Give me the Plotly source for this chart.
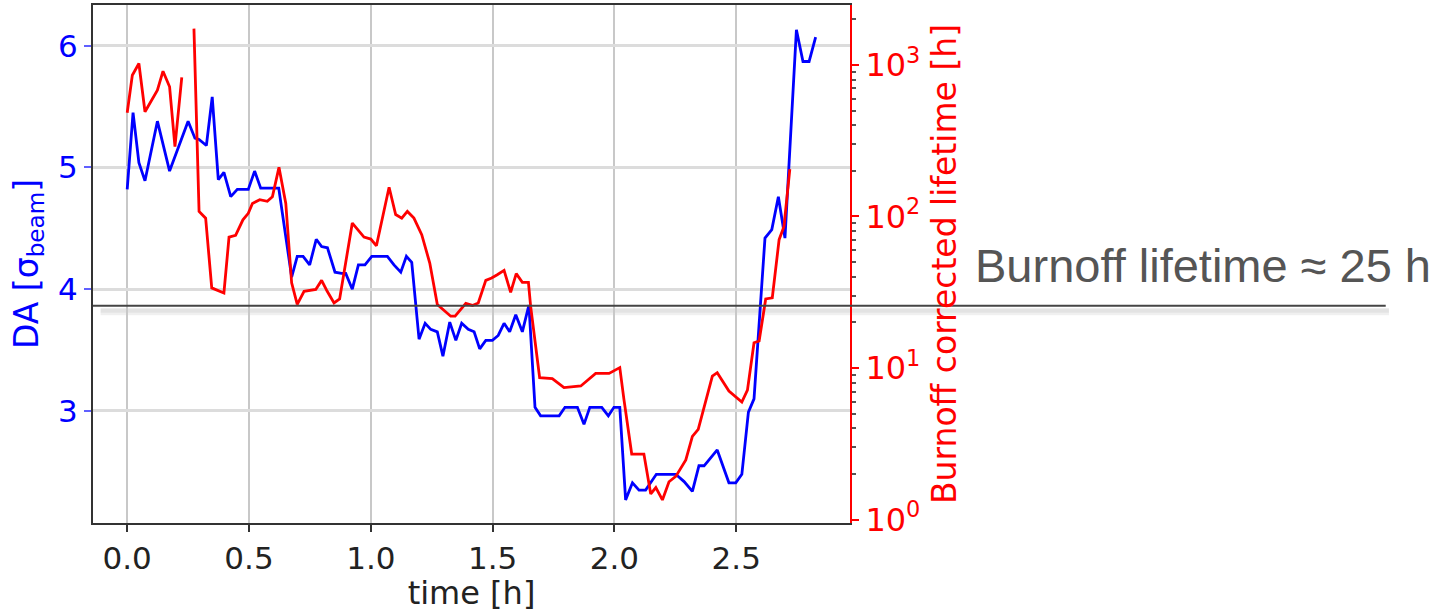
import plotly.graph_objects as go

# ---------------- data ----------------
time_da = [0.000, 0.024, 0.048, 0.073, 0.124, 0.174, 0.250, 0.278, 0.295, 0.325,
           0.349, 0.374, 0.397, 0.425, 0.452, 0.497, 0.523, 0.548, 0.593, 0.622,
           0.675, 0.698, 0.722, 0.749, 0.776, 0.798, 0.822, 0.853, 0.880, 0.897,
           0.924, 0.949, 0.976, 1.004, 1.068, 1.095, 1.123, 1.146, 1.168, 1.198,
           1.223, 1.246, 1.273, 1.296, 1.324, 1.349, 1.373, 1.400, 1.424, 1.447,
           1.472, 1.499, 1.523, 1.547, 1.570, 1.595, 1.622, 1.649, 1.674, 1.697,
           1.773, 1.797, 1.848, 1.875, 1.899, 1.948, 1.975, 1.998, 2.022, 2.046,
           2.074, 2.101, 2.128, 2.172, 2.252, 2.286, 2.320, 2.347, 2.368, 2.422,
           2.470, 2.498, 2.523, 2.550, 2.573, 2.618, 2.646, 2.673, 2.700, 2.747,
           2.774, 2.799, 2.826]
da_sigma = [4.82, 5.45, 5.04, 4.89, 5.38, 4.97, 5.38, 5.24, 5.23, 5.18,
            5.58, 4.90, 4.96, 4.76, 4.82, 4.82, 4.97, 4.83, 4.83, 4.83,
            4.10, 4.27, 4.27, 4.20, 4.41, 4.35, 4.34, 4.14, 4.13, 4.13,
            4.00, 4.20, 4.20, 4.27, 4.27, 4.20, 4.14, 4.27, 4.22, 3.59,
            3.72, 3.67, 3.65, 3.45, 3.73, 3.58, 3.72, 3.67, 3.65, 3.51,
            3.58, 3.58, 3.62, 3.72, 3.65, 3.79, 3.65, 3.87, 3.03, 2.96,
            2.96, 3.03, 3.03, 2.89, 3.03, 3.03, 2.96, 3.03, 3.03, 2.27,
            2.41, 2.35, 2.35, 2.48, 2.48, 2.42, 2.34, 2.55, 2.55, 2.68,
            2.41, 2.41, 2.48, 2.99, 3.10, 4.42, 4.49, 4.76, 4.42, 6.13,
            5.87, 5.87, 6.07]

time_lt = [0.000, 0.021, 0.048, 0.073, 0.124, 0.147, 0.174, 0.196, 0.224, 0.250,
           0.274, 0.295, 0.322, 0.347, 0.397, 0.418, 0.445, 0.475, 0.497, 0.514,
           0.544, 0.575, 0.596, 0.623, 0.651, 0.675, 0.698, 0.726, 0.774, 0.798,
           0.821, 0.849, 0.872, 0.924, 0.972, 1.000, 1.023, 1.075, 1.102, 1.127,
           1.150, 1.177, 1.209, 1.242, 1.273, 1.328, 1.346, 1.390, 1.417, 1.441,
           1.472, 1.496, 1.519, 1.547, 1.574, 1.597, 1.622, 1.647, 1.656, 1.693,
           1.745, 1.793, 1.862, 1.923, 1.978, 2.022, 2.039, 2.071, 2.121, 2.149,
           2.170, 2.197, 2.224, 2.252, 2.293, 2.320, 2.344, 2.402, 2.422, 2.470,
           2.523, 2.546, 2.573, 2.594, 2.621, 2.648, 2.676, 2.696, 2.720]
lifetime_h = [483, 855, 1021, 491, 682, 909, 717, 289, 826, None,
              1735, 108, 97.5, 33.8, 31.3, 73, 75, 95, 105, 122,
              129, 126, 135, 211, 122, 36.5, 26.3, 32.1, 33, 37.9,
              32.1, 26.9, 28.6, 90.5, 73.1, 71, 64.1, 156, 103, 97.6,
              108, 97.6, 75.8, 49.3, 26.3, 22, 22, 26.7, 25.9, 26.9,
              37.9, 39.3, 41.3, 44.1, 31.6, 42, 36.8, 36.8, 25.6, 8.65,
              8.52, 7.43, 7.62, 9.23, 9.23, 10.07, 6.22, 2.71, 2.71, 1.48,
              1.63, 1.35, 1.78, 1.93, 2.48, 3.54, 3.95, 8.86, 9.33, 7.06,
              5.97, 7.16, 14.7, 15.1, 28.6, 29.1, 70.3, 86, 205]

x_ticks = [0.0, 0.5, 1.0, 1.5, 2.0, 2.5]
x_tick_labels = ["0.0", "0.5", "1.0", "1.5", "2.0", "2.5"]
da_ticks = [3, 4, 5, 6]
lt_ticks = [1, 10, 100, 1000]
lt_tick_labels = ["10<sup>0</sup>", "10<sup>1</sup>", "10<sup>2</sup>", "10<sup>3</sup>"]
lt_minor = [m * 10 ** k for k in range(0, 4) for m in range(2, 10)]

burnoff_line_h = 25.8
burnoff_text = "Burnoff lifetime \u2248 25 h"

# ---------------- figure ----------------
FONT = "DejaVu Sans"
BLUE = "#0000ff"
RED = "#ff0000"

fig = go.Figure()
fig.add_trace(go.Scatter(x=time_da, y=da_sigma, mode="lines",
                         line=dict(color=BLUE, width=2.8), yaxis="y",
                         showlegend=False))
fig.add_trace(go.Scatter(x=time_lt, y=lifetime_h, mode="lines",
                         line=dict(color=RED, width=2.8), yaxis="y2",
                         connectgaps=False, showlegend=False))

fig.update_layout(
    width=1445, height=612,
    margin=dict(l=93, r=595, t=5, b=89, autoexpand=False),
    paper_bgcolor="white", plot_bgcolor="white",
    font=dict(family=FONT, size=31, color="#222"),
    xaxis=dict(
        range=[-0.1404, 2.967], tickvals=x_ticks, ticktext=x_tick_labels,
        showgrid=True, gridcolor="#c8c8c8", gridwidth=2,
        zeroline=False, showline=True, linecolor="#333", linewidth=2, mirror=True,
        ticks="outside", ticklen=7, tickwidth=1.5, tickcolor="#333",
        tickfont=dict(family=FONT, size=31, color="#222"),
        title=dict(text="time [h]", font=dict(family=FONT, size=32, color="#222"),
                   standoff=4),
        automargin=False,
    ),
    yaxis=dict(
        range=[2.08, 6.334], tickvals=da_ticks,
        showgrid=True, gridcolor="#dcdcdc", gridwidth=3,
        zeroline=False, showline=True, linecolor="#333", linewidth=2,
        ticks="outside", ticklen=7, tickwidth=1.5, tickcolor="#6060ff",
        tickfont=dict(family=FONT, size=31, color=BLUE),
        title=dict(text="DA [\u03c3<sub>beam</sub>]",
                   font=dict(family=FONT, size=33, color=BLUE), standoff=10),
        automargin=False,
    ),
    yaxis2=dict(
        type="log", range=[-0.0217, 3.395], overlaying="y", side="right",
        tickvals=lt_ticks, ticktext=lt_tick_labels,
        showgrid=False, zeroline=False, showline=True, linecolor=RED, linewidth=2,
        ticks="outside", ticklen=7, tickwidth=1.5, tickcolor=RED,
        minor=dict(tickmode="array", tickvals=lt_minor, ticks="outside",
                   ticklen=4, tickwidth=1.5, tickcolor="#555"),
        tickfont=dict(family=FONT, size=32, color=RED),
        title=dict(text="Burnoff corrected lifetime [h]",
                   font=dict(family=FONT, size=33, color=RED), standoff=14),
        automargin=False,
    ),
)

# burnoff reference line (extends past the plot) with a soft shadow
fig.add_shape(type="rect", xref="paper", yref="y2",
              x0=0.01, x1=1.712, y0=burnoff_line_h * 0.865, y1=burnoff_line_h * 0.965,
              fillcolor="rgba(0,0,0,0.06)", line=dict(width=0), layer="below")
fig.add_shape(type="rect", xref="paper", yref="y2",
              x0=0.01, x1=1.712, y0=burnoff_line_h * 0.90, y1=burnoff_line_h * 0.955,
              fillcolor="rgba(0,0,0,0.05)", line=dict(width=0), layer="below")
fig.add_shape(type="line", xref="paper", yref="y2",
              x0=0.0, x1=1.7077, y0=burnoff_line_h, y1=burnoff_line_h,
              line=dict(color="#444", width=2))

fig.add_annotation(text=burnoff_text, xref="paper", yref="paper",
                   x=1.162, y=0.497, xanchor="left", yanchor="middle",
                   showarrow=False,
                   font=dict(family="Liberation Sans", size=47, color="#555"))

fig.write_html("out.html")
